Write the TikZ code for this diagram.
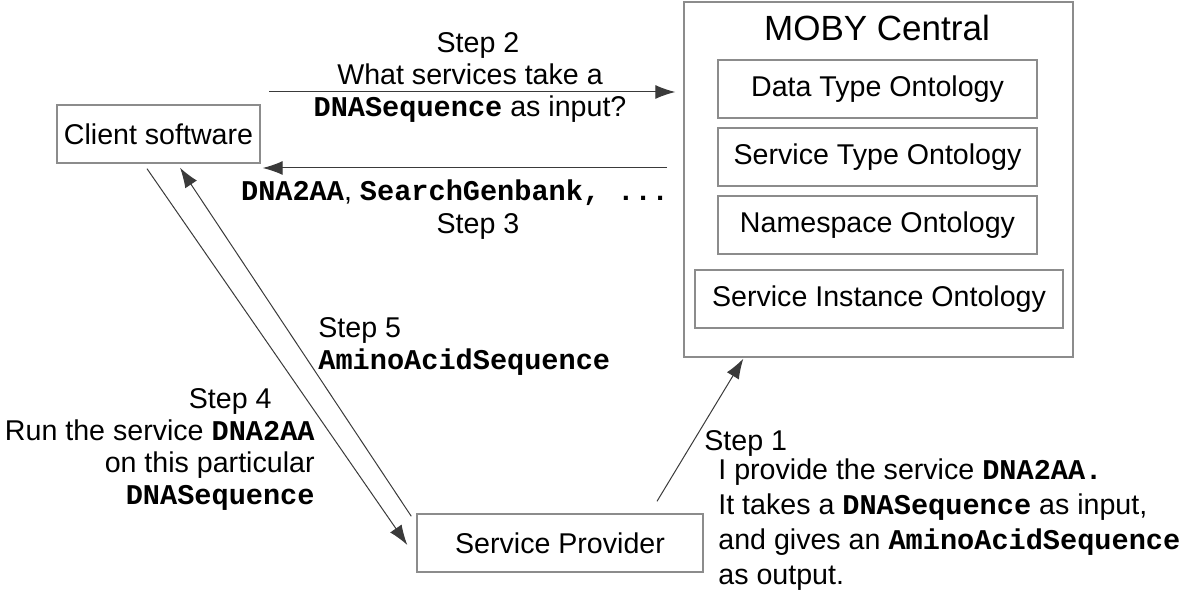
\documentclass[tikz,border=0pt]{standalone}
\usepackage{fontspec}
\setmainfont{Liberation Sans}
\setmonofont{Liberation Mono}
\usetikzlibrary{arrows.meta}
\definecolor{cframe}{HTML}{8c8c8c}
\definecolor{cline}{HTML}{3a3a3a}
\newcommand{\code}[1]{\texttt{\bfseries #1}}

\begin{document}
\begin{tikzpicture}[x=0.5pt,y=-0.5pt,
  box/.style={draw=cframe,line width=0.7pt,minimum height=29pt,inner sep=0pt,
    font=\fontsize{14.3}{16}\selectfont},
  txt/.style={inner sep=0pt,font=\fontsize{14.3}{16}\selectfont},
  arr/.style={-{Latex[length=10pt,width=7pt]},draw=cline,line width=0.5pt}]
  \useasboundingbox (0,0) rectangle (1200,592);
  \node[box,minimum width=194.5pt,minimum height=177.5pt] (moby) at (878.5,179.5) {};
  \node[txt,font=\fontsize{17.5}{20}\selectfont] (mobyt) at (877,28) {MOBY Central};
  \node[box,minimum width=159.5pt] (dto) at (877.5,89) {Data Type Ontology};
  \node[box,minimum width=159.5pt] (sto) at (877.5,157) {Service Type Ontology};
  \node[box,minimum width=159.5pt] (nso) at (877.5,225) {Namespace Ontology};
  \node[box,minimum width=184pt] (sio) at (879,299) {Service Instance Ontology};
  \node[box,minimum width=101.5pt] (client) at (158.5,134) {Client software};
  \node[box,minimum width=143pt] (prov) at (560,543) {Service Provider};

  \coordinate (c2) at (269,92);
  \coordinate (c3) at (667,168);
  \draw[arr] (c2) -- ([xshift=-4pt]moby.west |- c2);
  \draw[arr] (c3) -- ([xshift=1pt]client.east |- c3);
  \draw[arr] ([xshift=48.5pt,yshift=6pt]prov.north) -- ([xshift=30pt,yshift=-0.5pt]moby.south west);
  \draw[arr] ([xshift=-5.75pt,yshift=-2.5pt]client.south) -- ([xshift=-4.5pt,yshift=-1pt]prov.west);
  \draw[arr] ([xshift=-2.5pt,yshift=-1.5pt]prov.north west) -- ([xshift=10.75pt,yshift=-2pt]client.south);

  \node[txt,align=center] (s2) at (470,77) {\hspace*{8pt}Step 2\\What services take a\hspace*{4pt}\\\code{DNASequence} as input?};
  \node[txt] (s3l) at (455,193) {\code{DNA2AA}, \code{SearchGenbank, ...}};
  \node[txt] (s3) at (478,226) {Step 3};
  \node[txt,align=left,anchor=west] (s5) at (318,346) {Step 5\\\code{AminoAcidSequence}};
  \node[txt,align=right,anchor=east] (s4) at (315,449) {Step 4\hspace*{21.5pt}\\Run the service \code{DNA2AA}\\on this particular\hspace*{6pt}\\\code{DNASequence}};
  \node[txt,anchor=west] (s1) at (704,443) {Step 1};
  \node[txt,align=left,anchor=west,font=\fontsize{14.3}{17.5}\selectfont] (s1b) at (718,525)
    {I provide the service \code{DNA2AA.}\\It takes a \code{DNASequence} as input,\\and gives an \code{AminoAcidSequence}\\as output.};
\end{tikzpicture}
\end{document}
